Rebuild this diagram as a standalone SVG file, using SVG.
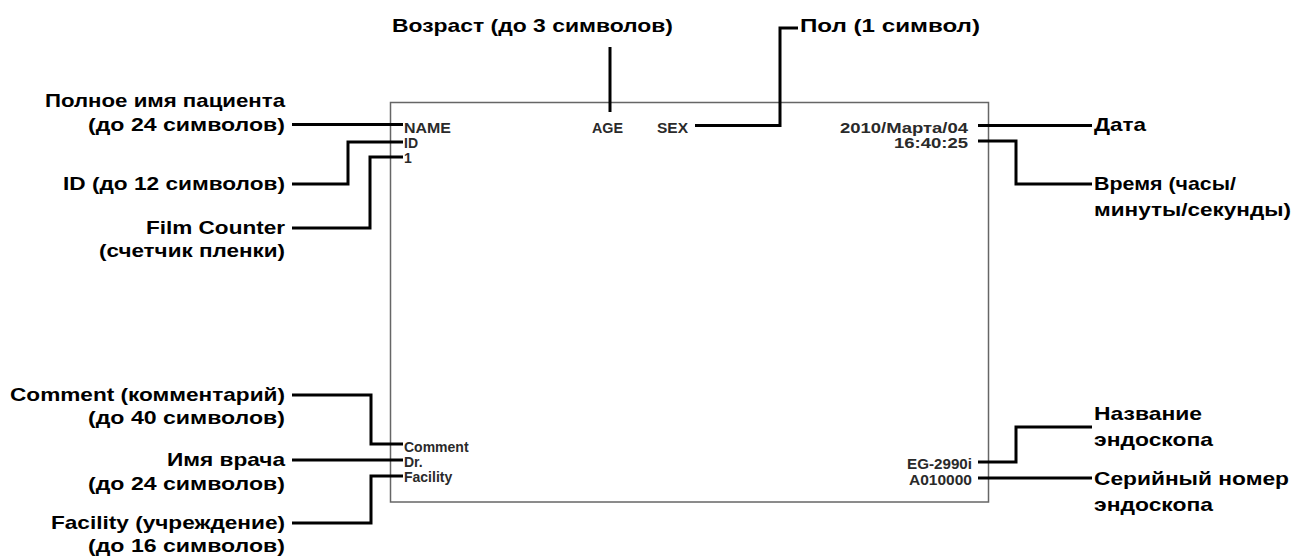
<svg xmlns="http://www.w3.org/2000/svg" width="1295" height="558" viewBox="0 0 1295 558">
<style>
.lbl{font-family:"Liberation Sans",Arial,sans-serif;font-weight:bold;font-size:19px;fill:#000}
.in{font-family:"Liberation Sans",Arial,sans-serif;font-weight:bold;font-size:14px;fill:#2a2a2a}
.r{text-anchor:end}
.m{text-anchor:middle}
.ln{fill:none;stroke:#000;stroke-width:3}
</style>
<rect width="1295" height="558" fill="#fff"/>
<g id="screen">
<rect x="390.5" y="102.5" width="598" height="399.5" fill="none" stroke="#666" stroke-width="1.5"/>
<text class="in" x="404" y="133" textLength="47" lengthAdjust="spacingAndGlyphs">NAME</text>
<text class="in" x="592" y="133" textLength="31" lengthAdjust="spacingAndGlyphs">AGE</text>
<text class="in" x="657" y="133" textLength="31" lengthAdjust="spacingAndGlyphs">SEX</text>
<text class="in" x="840" y="133" textLength="128" lengthAdjust="spacingAndGlyphs">2010/Марта/04</text>
<text class="in" x="404" y="148">ID</text>
<text class="in" x="894" y="148" textLength="74" lengthAdjust="spacingAndGlyphs">16:40:25</text>
<text class="in" x="404" y="163">1</text>
<text class="in" x="404" y="452">Comment</text>
<text class="in" x="404" y="467">Dr.</text>
<text class="in" x="404" y="482">Facility</text>
<text class="in" x="907" y="469" textLength="65" lengthAdjust="spacingAndGlyphs">EG-2990i</text>
<text class="in" x="909" y="485" textLength="63" lengthAdjust="spacingAndGlyphs">A010000</text>
</g>
<g id="label-name"><text class="lbl" x="45" y="107" textLength="240" lengthAdjust="spacingAndGlyphs">Полное имя пациента</text><text class="lbl" x="88" y="131" textLength="197" lengthAdjust="spacingAndGlyphs">(до 24 символов)</text></g>
<g id="label-id"><text class="lbl" x="63" y="190" textLength="222" lengthAdjust="spacingAndGlyphs">ID (до 12 символов)</text></g>
<g id="label-film"><text class="lbl" x="146" y="234" textLength="139" lengthAdjust="spacingAndGlyphs">Film Counter</text><text class="lbl" x="99" y="257" textLength="186" lengthAdjust="spacingAndGlyphs">(счетчик пленки)</text></g>
<g id="label-comment"><text class="lbl" x="10" y="401" textLength="275" lengthAdjust="spacingAndGlyphs">Comment (комментарий)</text><text class="lbl" x="88" y="424" textLength="197" lengthAdjust="spacingAndGlyphs">(до 40 символов)</text></g>
<g id="label-dr"><text class="lbl" x="167" y="466" textLength="118" lengthAdjust="spacingAndGlyphs">Имя врача</text><text class="lbl" x="88" y="490" textLength="197" lengthAdjust="spacingAndGlyphs">(до 24 символов)</text></g>
<g id="label-facility"><text class="lbl" x="51" y="529" textLength="234" lengthAdjust="spacingAndGlyphs">Facility (учреждение)</text><text class="lbl" x="88" y="552" textLength="197" lengthAdjust="spacingAndGlyphs">(до 16 символов)</text></g>
<g id="label-age"><text class="lbl" x="392" y="32" textLength="281" lengthAdjust="spacingAndGlyphs">Возраст (до 3 символов)</text></g>
<g id="label-sex"><text class="lbl" x="800" y="32" textLength="180" lengthAdjust="spacingAndGlyphs">Пол (1 символ)</text></g>
<g id="label-date"><text class="lbl" x="1094" y="131" textLength="52" lengthAdjust="spacingAndGlyphs">Дата</text></g>
<g id="label-time"><text class="lbl" x="1094" y="190" textLength="142" lengthAdjust="spacingAndGlyphs">Время (часы/</text><text class="lbl" x="1094" y="216" textLength="197" lengthAdjust="spacingAndGlyphs">минуты/секунды)</text></g>
<g id="label-scope"><text class="lbl" x="1094" y="420" textLength="108" lengthAdjust="spacingAndGlyphs">Название</text><text class="lbl" x="1094" y="446" textLength="119" lengthAdjust="spacingAndGlyphs">эндоскопа</text></g>
<g id="label-serial"><text class="lbl" x="1094" y="485" textLength="195" lengthAdjust="spacingAndGlyphs">Серийный номер</text><text class="lbl" x="1094" y="511" textLength="119" lengthAdjust="spacingAndGlyphs">эндоскопа</text></g>
<g id="connectors">
<path class="ln" d="M292 124.5H403"/>
<path class="ln" d="M292 184H348V142H403"/>
<path class="ln" d="M292 228H370V157H403"/>
<path class="ln" d="M610 47V112"/>
<path class="ln" d="M695 125.5H780V28H798"/>
<path class="ln" d="M978 125.5H1092"/>
<path class="ln" d="M978 141H1016V184H1092"/>
<path class="ln" d="M292 395H371V444H403"/>
<path class="ln" d="M292 460H403"/>
<path class="ln" d="M292 523H371V476H403"/>
<path class="ln" d="M978 462H1016V427H1092"/>
<path class="ln" d="M978 478H1092"/>
</g>
</svg>
